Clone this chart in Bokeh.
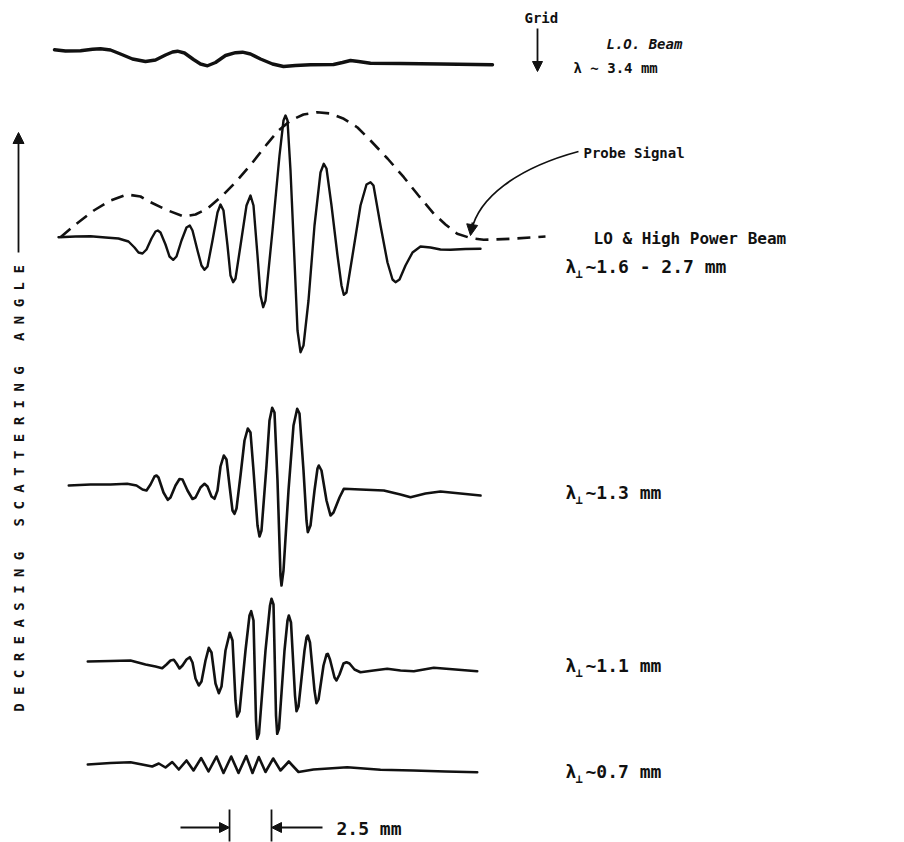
from bokeh.plotting import figure
from bokeh.models import Range1d, Label, Arrow, NormalHead
from bokeh.embed import file_html
from bokeh.resources import INLINE
import math

# ---------------- data (drawing units) ----------------
# L.O. beam, lambda ~ 3.4 mm
lo_x = [54, 65, 80, 92, 100, 110, 120, 132, 145, 155, 165, 172, 177, 184, 193, 200, 207, 215, 225, 235, 242,
        250, 260, 272, 283, 295, 310, 333, 342, 350, 358, 370, 400, 440, 492]
lo_y = [49.3, 50.5, 50.2, 48.8, 48.3, 49.5, 53.5, 58.5, 61, 59.5, 54.5, 51.5, 50.7, 52.5, 59, 63.5, 65.3, 62, 55, 52.2, 51.7,
        53.5, 58.5, 63.5, 66, 65, 64.3, 64, 62, 60, 61, 62.7, 63, 63.5, 64.3]

# LO & high power beam, lambda_perp ~ 1.6 - 2.7 mm
hp_x = [58, 75, 90, 105, 118, 128, 134, 138, 142, 146, 151, 155, 157.3, 160, 165, 169, 172.7, 176, 181, 186, 189.3,
        192, 197, 201, 204, 207, 212, 217, 220, 223, 227, 230, 232.7, 235, 240, 246, 250, 253, 257, 260, 262.7,
        265, 272, 279, 283, 285, 287, 290, 294, 297, 300, 303, 308, 314, 320, 323.3, 326, 331, 337, 341, 343.3,
        346, 352, 360, 366, 370, 373, 380, 387, 392, 395, 399, 405, 412, 420, 430, 440, 450, 465, 480]
hp_y = [236.7, 236, 235.7, 237, 238, 241, 247, 252, 253, 249, 238, 231, 230, 232, 244, 256, 259.3, 256, 240, 227, 225,
        230, 250, 265, 269.3, 266, 240, 212, 204, 210, 245, 275, 281.7, 278, 245, 205, 195, 205, 255, 295, 306.7,
        300, 230, 155, 120, 115, 120, 170, 260, 330, 351.7, 345, 300, 225, 172, 163.3, 168, 205, 255, 285, 294.3,
        292, 255, 205, 184, 181.7, 185, 225, 262, 279, 281.7, 279, 265, 252, 246, 247, 249, 249.3, 248.5, 248.3]

# probe signal envelope (dashed)
env_x = [60, 75, 93.3, 110, 126.7, 140, 150, 165, 183.3, 195, 206.7, 222, 236.7, 252, 266.7, 278, 290, 303, 316.7,
         330, 343.3, 357, 370, 387, 403.3, 418, 433.3, 445, 456.7, 470, 483.3, 510, 545]
env_y = [236.7, 224, 210, 200, 194, 196, 201.7, 209, 216, 214, 208.3, 195, 180, 162, 143.3, 130, 120, 114, 111.7,
         113, 118.3, 127, 140, 158, 176.7, 195, 213.3, 224, 233.3, 237.5, 239.3, 238.3, 236]

# lambda_perp ~ 1.3 mm
t13_x = [68.3, 90, 110, 126.7, 136, 142, 146, 150, 154, 156, 158, 163, 167.3, 170, 175, 179, 182, 187, 192, 195, 200,
         204, 207, 211, 214, 217, 220, 223.3, 226, 229, 232, 234, 236, 240, 244, 247.3, 250, 253, 257, 259, 261,
         266, 269, 271.7, 274, 277, 280, 281, 283, 288, 293, 296.7, 299, 303, 306, 307.3, 310, 314, 317, 318.3,
         321, 326, 330, 333, 339, 343.3, 360, 383.3, 400, 410, 425, 440, 460, 480]
t13_y = [485, 484, 484, 483.3, 485, 489, 490, 484, 476, 475, 477, 492, 499.3, 497, 485, 478.5, 479, 490, 498.5, 497, 487,
         483.3, 486, 496, 498.3, 490, 466, 455, 459, 485, 510, 513.3, 508, 475, 440, 428, 432, 470, 525, 536, 530,
         465, 420, 407.3, 412, 480, 575, 585, 570, 490, 425, 408.3, 413, 470, 520, 531.7, 525, 490, 468, 465,
         470, 500, 515, 512, 497, 488.3, 489, 490, 494, 496.7, 493, 491, 493, 495]

# lambda_perp ~ 1.1 mm
t11_x = [87.3, 110, 130, 145, 155, 161.7, 166, 170, 173.3, 176, 179, 182, 186, 189.3, 192, 195, 198.3, 201, 205, 208.3,
         211, 215, 218.3, 221, 225, 229.3, 232, 235, 236.7, 239, 245, 249, 250.7, 253, 255.5, 256.7, 258.5, 265,
         269.5, 271, 273, 275.5, 276.7, 278.5, 284, 287, 288.3, 290.5, 294.5, 296, 298, 304, 306, 307.3, 309.5,
         314, 316, 318, 323, 326, 327.3, 329.5, 334, 336, 339, 343, 346, 349, 354, 360, 373, 386.7, 400, 413.3,
         433.3, 455, 476.7]
t11_y = [661, 660.5, 660, 664, 666, 667.7, 664, 660, 659.3, 663, 668, 665, 659, 656.7, 662, 678, 685, 681, 660, 647.3,
         652, 683, 692.7, 686, 650, 632.3, 640, 700, 716, 711, 650, 615, 610.7, 620, 720, 738.3, 733, 650,
         605, 598.3, 604, 715, 733.3, 728, 650, 620, 615, 622, 695, 710.7, 706, 650, 637, 635, 642,
         690, 702.7, 699, 665, 654, 653.3, 659, 677, 680, 674, 663, 661.7, 663, 669, 671.7, 670, 668.3, 670, 670.7,
         667.3, 669, 670.7]

# lambda_perp ~ 0.7 mm
t07_x = [87.3, 110, 130, 151.7, 158.3, 165, 171.7, 178.3, 186, 193, 200.7, 208, 216, 223, 230.7, 238,
         245.7, 252, 258.3, 265, 272.7, 280, 288.3, 298, 313, 346.7, 380, 413, 445, 476.7]
t07_y = [764, 762.5, 761.7, 766, 763, 767, 761.5, 769, 760, 770, 757.5, 771, 756, 772.5, 756, 772.5,
         755.5, 772.5, 756.5, 771.5, 758, 770, 761, 771.5, 769, 766.7, 769.3, 770, 771, 771.7]

# scale bar: 2.5 mm between the two bars
bar_left, bar_right = 229, 271

# ---------------- figure ----------------
W, H = 904, 842
p = figure(width=W, height=H, output_backend="svg", toolbar_location=None,
           x_range=Range1d(0, W), y_range=Range1d(H, 0),
           min_border=0, min_border_left=0, min_border_right=0, min_border_top=0, min_border_bottom=0)
p.axis.visible = False
p.grid.visible = False
p.outline_line_color = None
p.background_fill_color = "white"
p.border_fill_color = "white"

INK = "#111111"
for xs, ys, lw in [(lo_x, lo_y, 3.4), (hp_x, hp_y, 2.4), (t13_x, t13_y, 2.6), (t11_x, t11_y, 2.6), (t07_x, t07_y, 2.6)]:
    p.line(xs, ys, line_color=INK, line_width=lw, line_join="round", line_cap="round")

p.line(env_x, env_y, line_color=INK, line_width=2.6, line_dash="13 8")

# probe-signal pointer (curved arrow)
p.bezier(x0=[578], y0=[151], x1=[471], y1=[230], cx0=[515], cy0=[168], cx1=[478], cy1=[198],
         line_color=INK, line_width=1.8)
p.add_layout(Arrow(end=NormalHead(size=11, fill_color=INK, line_color=INK), line_color=INK, line_width=1.8,
                   x_start=472, y_start=222, x_end=470, y_end=235))

# grid arrow
p.add_layout(Arrow(end=NormalHead(size=10, fill_color=INK, line_color=INK), line_color=INK, line_width=1.8,
                   x_start=537, y_start=28, x_end=537, y_end=71))

# vertical axis arrow
p.add_layout(Arrow(end=NormalHead(size=11, fill_color=INK, line_color=INK), line_color=INK, line_width=1.8,
                   x_start=18, y_start=252, x_end=18, y_end=132))

# scale bar
p.segment(x0=[bar_left, bar_right], y0=[809, 809], x1=[bar_left, bar_right], y1=[841, 841], line_color=INK, line_width=1.8)
p.add_layout(Arrow(end=NormalHead(size=10, fill_color=INK, line_color=INK), line_color=INK, line_width=1.8,
                   x_start=180, y_start=827, x_end=bar_left, y_end=827))
p.add_layout(Arrow(end=NormalHead(size=10, fill_color=INK, line_color=INK), line_color=INK, line_width=1.8,
                   x_start=322, y_start=827, x_end=bar_right, y_end=827))

FONT = "DejaVu Sans Mono"

def lab(x, y, text, size=15, style="bold", angle=0.0, align="left"):
    p.add_layout(Label(x=x, y=y, text=text, text_font=FONT, text_font_size=f"{size}px",
                       text_font_style=style, text_color=INK, text_align=align,
                       text_baseline="middle", angle=angle))

def lam_perp(x, y, rest, size=18):
    lab(x, y, "λ", size)
    lab(x + 10, y + 7, "⊥", 12)
    lab(x + 20, y, rest, size)

NB = "\u00a0"
lab(524, 17, "Grid", 14)
lab(606, 43, "L.O. Beam", 14, "bold italic")
lab(573, 67, "λ ~ 3.4 mm", 14)
lab(583, 152, "Probe Signal", 14)
lab(593, 238, "LO & High Power Beam", 16)
lam_perp(565, 266, "~1.6 - 2.7 mm")
lam_perp(565, 492, "~1.3 mm")
lam_perp(565, 665, "~1.1 mm")
lam_perp(565, 771, "~0.7 mm")
lab(336, 828, "2.5 mm", 18)
vtext = (NB * 3).join(NB.join(w) for w in ["DECREASING", "SCATTERING", "ANGLE"])
lab(18, 488, vtext, 14, angle=math.pi / 2, align="center")

open("out.html", "w").write(file_html(p, INLINE))
